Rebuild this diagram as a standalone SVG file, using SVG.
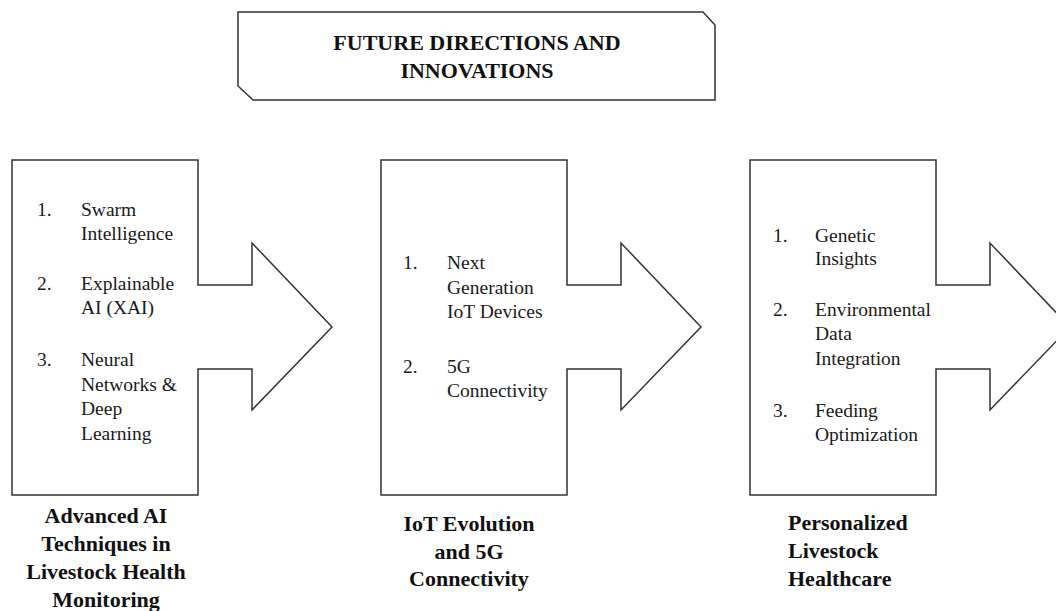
<svg xmlns="http://www.w3.org/2000/svg" width="1056" height="611" viewBox="0 0 1056 611">
  <style>
    .shape { fill: #ffffff; stroke: #333333; stroke-width: 1.5; stroke-linejoin: miter; }
    .title { font-family: "Liberation Serif", "Times New Roman", serif; font-weight: bold; font-size: 22px; fill: #111111; text-anchor: middle; }
    .item { font-family: "Liberation Serif", "Times New Roman", serif; font-size: 19.5px; fill: #1a1a1a; }
    .label { font-family: "Liberation Serif", "Times New Roman", serif; font-weight: bold; font-size: 22px; fill: #111111; }
  </style>
  <defs>
    <!-- box with a right-pointing block arrow on its right side -->
    <path id="arrowBox" d="M0,160 H186 V285 H240 V243 L320,327 L240,410 V369 H186 V495 H0 Z"/>
  </defs>

  <rect x="0" y="0" width="1056" height="611" fill="#ffffff"/>

  <!-- heading banner with two clipped corners -->
  <g id="heading">
    <path class="shape" d="M238,12 H703 L715,25 V100 H253 L238,86 Z"/>
    <text class="title" x="477" y="50">FUTURE DIRECTIONS AND</text>
    <text class="title" x="477" y="78">INNOVATIONS</text>
  </g>

  <g id="connectors"/>

  <!-- stage 1 -->
  <g id="node-ai">
    <use href="#arrowBox" class="shape" x="12"/>
    <g class="item">
      <text x="37" y="216">1.</text>
      <text x="81" y="216">Swarm</text>
      <text x="81" y="240">Intelligence</text>
      <text x="37" y="290">2.</text>
      <text x="81" y="290">Explainable</text>
      <text x="81" y="314">AI (XAI)</text>
      <text x="37" y="366">3.</text>
      <text x="81" y="366">Neural</text>
      <text x="81" y="391">Networks &amp;</text>
      <text x="81" y="415">Deep</text>
      <text x="81" y="440">Learning</text>
    </g>
    <g class="label" text-anchor="middle">
      <text x="106" y="523">Advanced AI</text>
      <text x="106" y="551">Techniques in</text>
      <text x="106" y="579">Livestock Health</text>
      <text x="106" y="607">Monitoring</text>
    </g>
  </g>

  <!-- stage 2 -->
  <g id="node-iot">
    <use href="#arrowBox" class="shape" x="381"/>
    <g class="item">
      <text x="403" y="269">1.</text>
      <text x="447" y="269">Next</text>
      <text x="447" y="294">Generation</text>
      <text x="447" y="318">IoT Devices</text>
      <text x="403" y="373">2.</text>
      <text x="447" y="373">5G</text>
      <text x="447" y="397">Connectivity</text>
    </g>
    <g class="label" text-anchor="middle">
      <text x="469" y="531">IoT Evolution</text>
      <text x="469" y="559">and 5G</text>
      <text x="469" y="586">Connectivity</text>
    </g>
  </g>

  <!-- stage 3 -->
  <g id="node-health">
    <use href="#arrowBox" class="shape" x="750"/>
    <g class="item">
      <text x="773" y="242">1.</text>
      <text x="815" y="242">Genetic</text>
      <text x="815" y="265">Insights</text>
      <text x="773" y="316">2.</text>
      <text x="815" y="316">Environmental</text>
      <text x="815" y="340">Data</text>
      <text x="815" y="365">Integration</text>
      <text x="773" y="417">3.</text>
      <text x="815" y="417">Feeding</text>
      <text x="815" y="441">Optimization</text>
    </g>
    <g class="label">
      <text x="788" y="530">Personalized</text>
      <text x="788" y="558">Livestock</text>
      <text x="788" y="586">Healthcare</text>
    </g>
  </g>
</svg>
